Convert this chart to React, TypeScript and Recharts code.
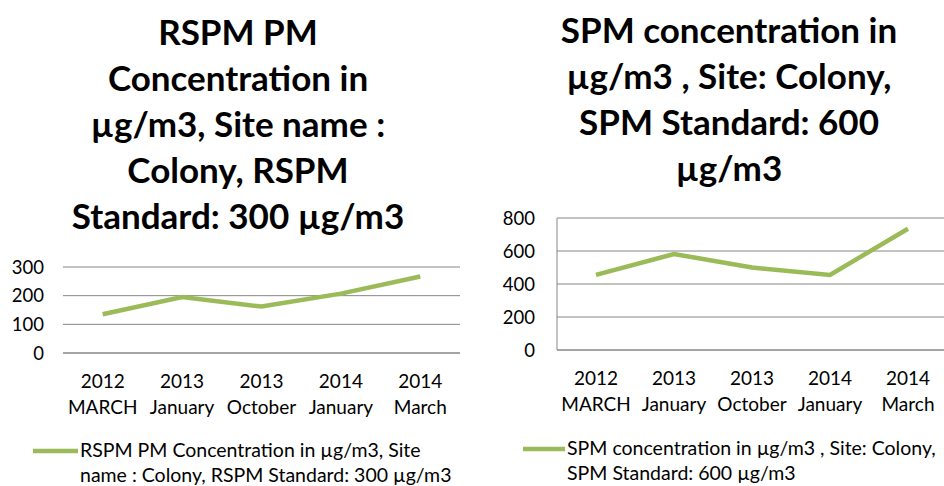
import React from "react";
import { LineChart, Line, XAxis, YAxis, CartesianGrid, Legend } from "recharts";

const YEARS = ["2012", "2013", "2013", "2014", "2014"];
const MONTHS = ["MARCH", "January", "October", "January", "March"];

const RSPM_VALUES = [135, 195, 162, 207, 267];
const SPM_VALUES = [455, 582, 500, 455, 735];

const RSPM_TICKS = [0, 100, 200, 300];
const SPM_TICKS = [0, 200, 400, 600, 800];

const RSPM_TITLE = ["RSPM PM", "Concentration in", "µg/m3, Site name :", "Colony, RSPM", "Standard: 300 µg/m3"];
const SPM_TITLE = ["SPM concentration in", "µg/m3 , Site: Colony,", "SPM Standard: 600", "µg/m3"];

const RSPM_LEGEND = ["RSPM PM Concentration in µg/m3, Site", "name : Colony, RSPM Standard: 300 µg/m3"];
const SPM_LEGEND = ["SPM concentration in µg/m3 , Site: Colony,", "SPM Standard: 600 µg/m3"];

const FONT = "Lato, 'Open Sans', sans-serif";
const LINE_COLOR = "#9bbb59";
const GRID_COLOR = "#868686";

function CategoryTick(props: any) {
  const { x, y, payload } = props;
  const [year, month] = String(payload.value).split("|");
  return (
    <text x={x} y={y} textAnchor="middle" fontFamily={FONT} fontSize={19} fill="#000">
      <tspan x={x} dy={33}>{year}</tspan>
      <tspan x={x} dy={26}>{month}</tspan>
    </text>
  );
}

type PanelProps = {
  left: number;
  width: number;
  values: number[];
  ticks: number[];
  plotTop: number;
  zeroY: number;
  yAxisWidth: number;
  marginRight: number;
  yTickGap: number;
  showAxisLine: boolean;
  title: string[];
  titleCenter: number;
  titleTop: number;
  legend: string[];
  legendX: number;
  legendLine: number;
  legendTop: number;
};

function Panel(p: PanelProps) {
  const data = YEARS.map((y, i) => ({ cat: y + "|" + MONTHS[i], value: p.values[i] }));
  const height = 486;
  const xAxisHeight = 60;

  const renderLegend = () => (
    <div style={{ position: "relative", fontFamily: FONT, fontSize: 19.5, lineHeight: "25px", color: "#000" }}>
      <svg width={p.legendLine} height={6} style={{ position: "absolute", left: 0, top: 11 }}>
        <line x1={0} y1={3} x2={p.legendLine} y2={3} stroke={LINE_COLOR} strokeWidth={4.5} />
      </svg>
      <div style={{ marginLeft: p.legendLine + 2, whiteSpace: "nowrap" }}>
        {p.legend.map((l, i) => (
          <div key={i}>{l}</div>
        ))}
      </div>
    </div>
  );

  return (
    <div style={{ position: "absolute", left: p.left, top: 0, width: p.width, height }}>
      <div
        style={{
          position: "absolute",
          left: p.titleCenter - 250,
          width: 500,
          top: p.titleTop,
          textAlign: "center",
          fontFamily: FONT,
          fontWeight: 700,
          fontSize: 35,
          lineHeight: "46px",
          color: "#000",
          whiteSpace: "nowrap",
        }}
      >
        {p.title.map((t, i) => (
          <div key={i}>{t}</div>
        ))}
      </div>
      <LineChart
        width={p.width}
        height={height}
        data={data}
        margin={{ top: p.plotTop, right: p.marginRight, left: 0, bottom: height - p.zeroY - xAxisHeight }}
      >
        <CartesianGrid horizontal vertical={false} stroke={GRID_COLOR} />
        <XAxis
          dataKey="cat"
          scale="band"
          height={xAxisHeight}
          tick={<CategoryTick />}
          tickLine={false}
          axisLine={{ stroke: GRID_COLOR }}
          interval={0}
          tickSize={0}
        />
        <YAxis
          width={p.yAxisWidth}
          domain={[0, p.ticks[p.ticks.length - 1]]}
          ticks={p.ticks}
          interval={0}
          tickLine={false}
          tickSize={0}
          tickMargin={p.yTickGap}
          axisLine={p.showAxisLine ? { stroke: GRID_COLOR } : false}
          tick={{ fontFamily: FONT, fontSize: 18.5, fill: "#000" }}
        />
        <Legend
          layout="horizontal"
          verticalAlign="middle"
          align="center"
          content={renderLegend}
          wrapperStyle={{ left: p.legendX, top: p.legendTop, width: 440, height: 50 }}
        />
        <Line
          dataKey="value"
          stroke={LINE_COLOR}
          strokeWidth={4.5}
          dot={false}
          activeDot={false}
          isAnimationActive={false}
        />
      </LineChart>
    </div>
  );
}

export default function App() {
  return (
    <div style={{ position: "absolute", left: 0, top: 0, width: 944, height: 486, overflow: "hidden", background: "#fff" }}>
      <Panel
        left={0}
        width={470}
        values={RSPM_VALUES}
        ticks={RSPM_TICKS}
        plotTop={267}
        zeroY={353}
        yAxisWidth={63}
        marginRight={10}
        yTickGap={19}
        showAxisLine={false}
        title={RSPM_TITLE}
        titleCenter={238}
        titleTop={8}
        legend={RSPM_LEGEND}
        legendX={33}
        legendLine={45}
        legendTop={437}
      />
      <Panel
        left={480}
        width={470}
        values={SPM_VALUES}
        ticks={SPM_TICKS}
        plotTop={218}
        zeroY={350}
        yAxisWidth={77}
        marginRight={3}
        yTickGap={22}
        showAxisLine={true}
        title={SPM_TITLE}
        titleCenter={249}
        titleTop={6}
        legend={SPM_LEGEND}
        legendX={43}
        legendLine={42}
        legendTop={435}
      />
    </div>
  );
}
